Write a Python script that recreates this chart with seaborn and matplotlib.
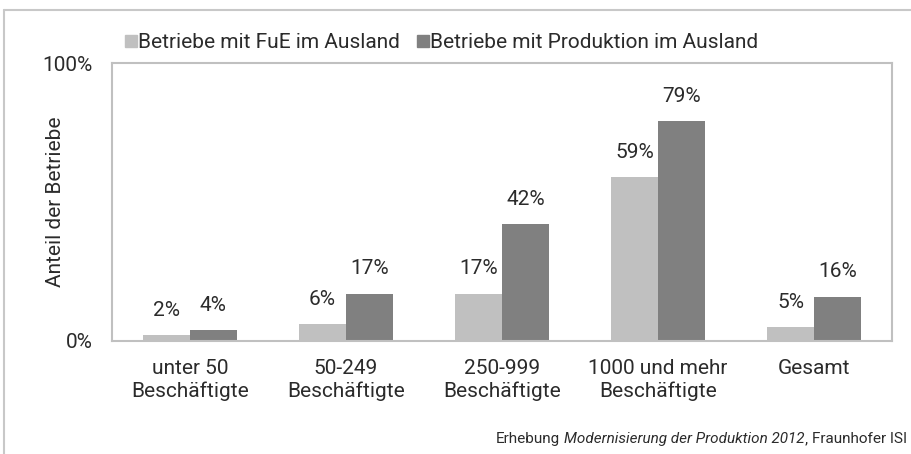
import matplotlib
matplotlib.use("Agg")
import matplotlib.pyplot as plt
from matplotlib.lines import Line2D
from matplotlib.offsetbox import TextArea, HPacker, AnchoredOffsetbox
import pandas as pd
import seaborn as sns

categories = ["unter 50\nBeschäftigte", "50-249\nBeschäftigte", "250-999\nBeschäftigte",
              "1000 und mehr\nBeschäftigte", "Gesamt"]
fue = [2, 6, 17, 59, 5]
produktion = [4, 17, 42, 79, 16]
series = ["Betriebe mit FuE im Ausland", "Betriebe mit Produktion im Ausland"]
colors = ["#c0c0c0", "#808080"]

sns.set_theme(style="white")
plt.rcParams["font.family"] = ["Roboto", "DejaVu Sans"]
txt = "#2b2b2b"
fs = 15

data = pd.concat([
    pd.DataFrame({"Kategorie": categories, "Anteil": fue, "Serie": series[0]}),
    pd.DataFrame({"Kategorie": categories, "Anteil": produktion, "Serie": series[1]}),
])

fig = plt.figure(figsize=(9.12, 4.54), dpi=100)
W, H = 912, 454
ax = fig.add_axes([112 / W, (H - 341) / H, (892 - 112) / W, (341 - 63) / H])

sns.barplot(data=data, x="Kategorie", y="Anteil", hue="Serie", palette=colors,
            width=0.6, saturation=1, linewidth=0, ax=ax, legend=False)

for c in ax.containers:
    ax.bar_label(c, fmt="%d%%", padding=11, fontsize=fs, color=txt)

ax.set_ylim(0, 100)
ax.set_yticks([0, 100])
ax.set_yticklabels(["0%", "100%"], fontsize=fs, color=txt)
ax.tick_params(axis="y", length=0, pad=14)
ax.tick_params(axis="x", length=0, pad=13, labelsize=fs, labelcolor=txt)
ax.set_xlabel("")
ax.set_ylabel("Anteil der Betriebe", fontsize=fs, color=txt)
ax.yaxis.set_label_coords((65 - 112) / 780, 0.5)
for s in ax.spines.values():
    s.set_color("#c0c0c0")
    s.set_linewidth(1.5)

handles = [Line2D([], [], marker="s", linestyle="", markersize=9, color=col) for col in colors]
fig.legend(handles, series, loc="center left", bbox_to_anchor=(106 / W, 1 - 43 / H),
           ncol=2, frameon=False, fontsize=fs, handlelength=0.6, handletextpad=0.05,
           columnspacing=0.8, labelcolor=txt)

# outer frame
fig.add_artist(Line2D([4 / W, 911 / W], [1 - 10 / H, 1 - 10 / H], color="#c8c8c8", lw=1.5))
fig.add_artist(Line2D([4 / W, 4 / W], [0, 1 - 10 / H], color="#c8c8c8", lw=1.5))

# Quelle, teilweise kursiv
props = dict(fontsize=11, color=txt)
parts = [TextArea("Erhebung", textprops=props),
         TextArea("Modernisierung der Produktion 2012", textprops=dict(props, style="italic")),
         TextArea("Fraunhofer ISI", textprops=props)]
box = HPacker(children=[parts[0], HPacker(children=[parts[1], TextArea(",", textprops=props)],
                                          align="baseline", pad=0, sep=0), parts[2]],
              align="baseline", pad=0, sep=3)
anch = AnchoredOffsetbox(loc="center right", child=box, frameon=False, pad=0, borderpad=0,
                         bbox_to_anchor=(907 / W, 1 - 439 / H), bbox_transform=fig.transFigure)
fig.add_artist(anch)

fig.savefig("out.png", dpi=100)
